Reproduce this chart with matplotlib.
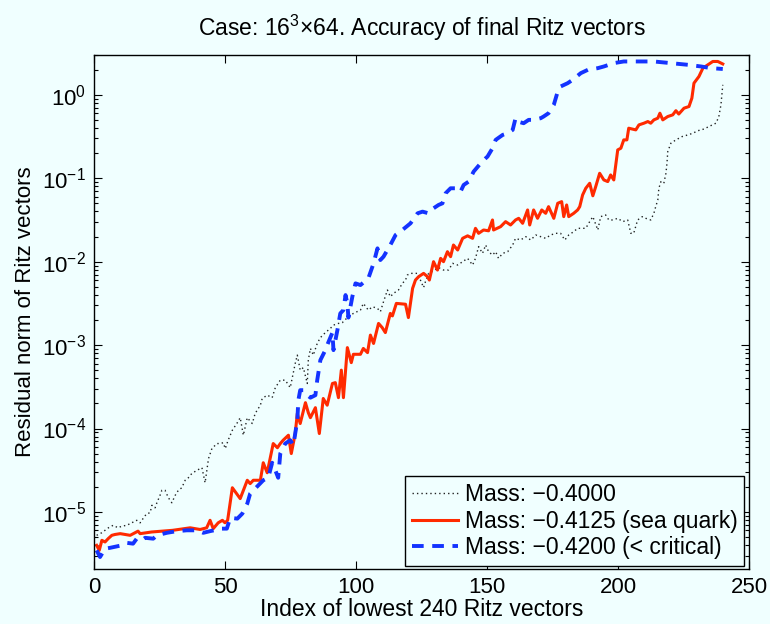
import numpy as np
import matplotlib
matplotlib.use("Agg")
import matplotlib.pyplot as plt
from matplotlib import font_manager

# residual norms, stored as log10 exponents
mass_0400_x = [1, 2.9, 5.5, 7.3, 9.2, 10.6, 12.5, 14.4, 16.3, 17.6, 18.7, 20.1, 21.4, 22.1, 23.3, 24,
               25.2, 25.9, 27.1, 28.4, 29.7, 31, 32.2, 33.5, 34.8, 36, 37.3, 39.3, 41.2, 42.4, 43.7, 45,
               46.9, 48.2, 49.3, 50.1, 51.2, 52.8, 54.7, 55.8, 57, 58.5, 60.4, 61.5, 63.5, 64.2, 66.1, 68,
               69.2, 71.1, 73, 74.9, 75.7, 76.8, 77.6, 78.7, 79.9, 81.4, 81.8, 82.6, 83.7, 85.2, 86.4, 88.3,
               90.2, 91.4, 93.3, 94.8, 96.7, 99, 101.7, 102.8, 104.7, 106.3, 108.2, 109.3, 110.5, 112, 113.1,
               114.3, 116.2, 117.7, 118.9, 119.6, 120.8, 123.5, 125.8, 126.5, 127.7, 129.6, 131.5, 133.4,
               135.3, 136.9, 138.8, 140.7, 142.6, 144.5, 145.6, 146.8, 148.3, 149.5, 150.6, 152.1, 153.3,
               154.4, 156, 157.9, 159.8, 160.9, 162.8, 164.8, 166.7, 168.6, 170.5, 172.4, 174.3, 176.2,
               178.1, 179.7, 181.2, 183.1, 184.6, 187.7, 188.8, 190.4, 192.3, 193.4, 195.3, 196.5, 198,
               199.9, 201.8, 203.7, 204.9, 206, 207.5, 209.3, 210.6, 212.5, 213.7, 214.4, 215.2, 215.6,
               216.4, 217.5, 218.3, 218.7, 219, 220.2, 222.1, 224.5, 226.7, 228.6, 230.5, 232.8, 234.7,
               237.4, 238.5, 239.3, 240]
mass_0400_log = [-5.28, -5.25, -5.19, -5.16, -5.19, -5.17, -5.16, -5.13, -5.10, -5.13, -5.08, -5.02, -5.01,
                 -4.92, -4.95, -4.89, -4.80, -4.74, -4.74, -4.83, -4.89, -4.80, -4.74, -4.71, -4.62, -4.59,
                 -4.54, -4.50, -4.47, -4.65, -4.36, -4.24, -4.18, -4.18, -4.17, -4.24, -4.14, -4.02, -3.93,
                 -3.87, -4.08, -3.87, -3.94, -3.82, -3.72, -3.64, -3.60, -3.63, -3.51, -3.42, -3.42, -3.51,
                 -3.39, -3.22, -3.12, -3.30, -3.27, -3.46, -3.18, -3.04, -3.12, -2.98, -2.91, -2.85, -2.80,
                 -2.76, -2.74, -2.73, -2.67, -2.62, -2.58, -2.50, -2.58, -2.54, -2.56, -2.60, -2.48, -2.34,
                 -2.42, -2.38, -2.34, -2.26, -2.22, -2.16, -2.14, -2.14, -2.31, -2.24, -2.14, -2.11, -2.07,
                 -2.10, -2.10, -2.02, -2.04, -2.00, -1.96, -2.04, -1.96, -1.82, -1.90, -1.80, -1.88, -1.92,
                 -1.88, -1.96, -1.90, -1.88, -1.80, -1.72, -1.74, -1.70, -1.74, -1.68, -1.70, -1.72, -1.68,
                 -1.66, -1.66, -1.74, -1.68, -1.64, -1.60, -1.60, -1.54, -1.46, -1.62, -1.46, -1.44, -1.50,
                 -1.50, -1.48, -1.52, -1.50, -1.66, -1.66, -1.50, -1.46, -1.48, -1.50, -1.42, -1.34, -1.26,
                 -1.12, -1.04, -1.06, -0.94, -0.82, -0.68, -0.58, -0.54, -0.50, -0.48, -0.46, -0.43, -0.41,
                 -0.38, -0.34, -0.26, -0.12, 0.12]

mass_4125_x = [1, 2, 3, 4.2, 5.4, 6.8, 8, 10, 12, 13.8, 16.8, 17.6, 22, 26, 30, 36.7, 40.5, 43, 44.3, 45.5,
               47.4, 49, 50, 51, 52.8, 55.8, 58.5, 59.6, 60.8, 63.5, 64.6, 66.1, 68.4, 70, 71.1, 72.2,
               74.2, 75.3, 76.8, 77.6, 78.7, 80.7, 81.8, 82.6, 84.5, 86, 87.5, 89, 91, 92.1, 93.3, 94.4,
               95.2, 96.7, 98.2, 99, 101.7, 102.8, 104.4, 105.5, 106.7, 108.6, 110, 111.2, 113.1, 113.9,
               115.4, 118.9, 120, 121.6, 122.7, 123.9, 125.8, 127.3, 128, 129.6, 131.1, 132.3, 133.4,
               134.9, 136.1, 137.2, 138.8, 140.7, 142.6, 144.5, 145.6, 146.8, 148.7, 150.6, 152.1, 152.5,
               155.2, 157.1, 159, 160.9, 162.1, 163.6, 165.5, 166.3, 167.8, 169.3, 170.9, 172.4, 173.5,
               175.5, 177, 178.5, 179.3, 180.4, 181.2, 183.1, 184.6, 185.4, 186.5, 187.7, 189.2, 190.4,
               191.5, 193, 194.6, 196.1, 197.2, 198.4, 199.9, 201.1, 202.2, 203.4, 204.1, 206.8, 208,
               209.9, 211.4, 212.5, 213.7, 215.2, 216, 217.1, 219, 220.9, 222.1, 223.2, 225.2, 227.1,
               228.2, 229, 230.9, 232.4, 234.3, 236.2, 238.1, 240]
mass_4125_log = [-5.40, -5.46, -5.34, -5.36, -5.32, -5.28, -5.27, -5.26, -5.27, -5.28, -5.23, -5.26, -5.24,
                 -5.23, -5.22, -5.19, -5.21, -5.19, -5.10, -5.20, -5.13, -5.10, -5.13, -5.10, -4.71, -4.84,
                 -4.62, -4.66, -4.62, -4.62, -4.41, -4.53, -4.18, -4.23, -4.18, -4.14, -4.08, -4.30, -4.06,
                 -3.82, -3.94, -3.69, -3.81, -3.87, -3.75, -4.06, -3.64, -3.72, -3.46, -3.45, -3.63, -3.30,
                 -3.63, -3.03, -3.21, -3.11, -3.11, -3.04, -3.09, -2.88, -2.98, -2.74, -2.79, -2.85, -2.62,
                 -2.65, -2.50, -2.51, -2.67, -2.32, -2.22, -2.18, -2.14, -2.18, -2.22, -2.00, -2.10, -1.96,
                 -2.00, -1.88, -1.94, -1.80, -1.86, -1.72, -1.69, -1.72, -1.60, -1.66, -1.62, -1.63, -1.50,
                 -1.62, -1.58, -1.52, -1.56, -1.50, -1.48, -1.54, -1.38, -1.56, -1.38, -1.48, -1.38, -1.42,
                 -1.34, -1.48, -1.30, -1.28, -1.46, -1.32, -1.46, -1.42, -1.38, -1.34, -1.20, -1.12, -1.06,
                 -1.21, -1.10, -0.94, -1.02, -1.04, -0.96, -1.02, -0.66, -0.64, -0.54, -0.54, -0.40, -0.42,
                 -0.36, -0.34, -0.32, -0.34, -0.30, -0.28, -0.22, -0.30, -0.26, -0.24, -0.19, -0.23, -0.16,
                 -0.14, -0.04, 0.14, 0.22, 0.32, 0.36, 0.40, 0.40, 0.37]

mass_4200_x = [1, 2.3, 4.2, 6.1, 10.6, 12.5, 14.9, 16.3, 18.2, 19.5, 22.6, 24, 27.8, 31.6, 35.4, 39.3,
               41.7, 44.3, 48.8, 50.7, 52, 54.7, 56.6, 58.5, 59.6, 61.5, 64.6, 66.5, 68, 69.2, 70.3, 71.1,
               73, 74.9, 76.1, 76.8, 77.6, 78, 78.7, 79.9, 81.4, 82.6, 84.5, 85.2, 86.4, 88.3, 89.4, 91,
               91.4, 92.9, 94, 95.2, 96, 96.7, 97.1, 98.6, 99.8, 101.7, 104.7, 106.7, 108.2, 109.3, 110.5,
               113.1, 115.1, 117.7, 120.8, 123.5, 125.4, 127.7, 129.6, 131.5, 133, 134.2, 136.1, 138.8,
               139.9, 141.1, 143, 144.9, 147.6, 149.5, 150.2, 152.1, 153.3, 156, 157.9, 159.8, 160.9,
               161.7, 164, 165.9, 167.8, 170.5, 171.6, 173.5, 175.5, 177, 178.1, 180.8, 182.7, 185.8,
               188.5, 192.3, 194.6, 198.4, 202.2, 206, 213.7, 220.2, 226.7, 231.7, 235.5, 240]
mass_4200_log = [-5.46, -5.54, -5.44, -5.43, -5.40, -5.37, -5.38, -5.32, -5.34, -5.31, -5.32, -5.28, -5.25,
                 -5.23, -5.22, -5.22, -5.25, -5.23, -5.20, -5.20, -5.07, -5.08, -5.02, -4.90, -4.78, -4.72,
                 -4.62, -4.59, -4.41, -4.50, -4.59, -4.30, -4.18, -4.14, -4.20, -4.06, -3.90, -3.66, -3.54,
                 -3.54, -3.60, -3.63, -3.60, -3.42, -3.18, -3.06, -2.97, -2.85, -3.06, -2.82, -2.62, -2.58,
                 -2.40, -2.50, -2.67, -2.42, -2.26, -2.28, -2.20, -2.02, -1.84, -1.98, -1.94, -1.80, -1.68,
                 -1.62, -1.54, -1.42, -1.40, -1.42, -1.36, -1.32, -1.30, -1.18, -1.12, -1.12, -1.16, -1.08,
                 -1.04, -0.92, -0.82, -0.76, -0.74, -0.64, -0.54, -0.48, -0.46, -0.42, -0.28, -0.32, -0.34,
                 -0.30, -0.30, -0.28, -0.26, -0.22, -0.12, 0.04, 0.10, 0.14, 0.18, 0.26, 0.30, 0.32, 0.34,
                 0.38, 0.40, 0.40, 0.40, 0.38, 0.36, 0.34, 0.32, 0.31]

labels = ["Mass: \u22120.4000", "Mass: \u22120.4125 (sea quark)", "Mass: \u22120.4200 (< critical)"]
x_ticks = [0, 50, 100, 150, 200, 250]

bg = "#f0ffff"
names = {f.name for f in font_manager.fontManager.ttflist}
narrow = "Liberation Sans Narrow" if "Liberation Sans Narrow" in names else "Liberation Sans"

plt.rcParams["font.family"] = ["Liberation Sans", "DejaVu Sans"]
plt.rcParams["mathtext.fontset"] = "custom"
plt.rcParams["mathtext.rm"] = "Liberation Sans"
plt.rcParams["mathtext.it"] = "Liberation Sans"

fig = plt.figure(figsize=(7.7, 6.24), dpi=100, facecolor=bg)
ax = fig.add_axes([0.1221, 0.0881, 0.8506, 0.8237], facecolor=bg)

ax.plot(mass_0400_x, 10 ** np.array(mass_0400_log), color="#222222", lw=1.0, ls=(0, (1, 2.2)),
        label=labels[0])
ax.plot(mass_4125_x, 10 ** np.array(mass_4125_log), color="#ff2a00", lw=2.2, label=labels[1])
ax.plot(mass_4200_x, 10 ** np.array(mass_4200_log), color="#1433ff", lw=2.8, ls=(0, (3, 2.2)),
        label=labels[2])

ax.set_yscale("log")
ax.set_xlim(0, 250)
ax.set_ylim(2.07e-6, 3.0)
ax.set_xticks(x_ticks)
ax.set_yticks([1e-5, 1e-4, 1e-3, 1e-2, 1e-1, 1e0])
ax.tick_params(which="both", direction="in", top=True, right=True, labelsize=16, pad=6)
ax.tick_params(which="major", length=6, width=0.8)
ax.tick_params(which="minor", length=3, width=0.8)
for s in ax.spines.values():
    s.set_linewidth(1.0)

ax.set_xlabel("Index of lowest 240 Ritz vectors", fontsize=16.5, labelpad=0)
ax.set_ylabel("Residual norm of Ritz vectors", fontsize=16, labelpad=4)
ax.set_title("Case: $16^3$\u00d764. Accuracy of final Ritz vectors", fontsize=16.5,
             family=[narrow, "DejaVu Sans"], pad=14)

leg = ax.legend(loc="lower right", bbox_to_anchor=(0.993, 0.006), fontsize=16.5, frameon=True,
                fancybox=False, facecolor=bg, edgecolor="black", framealpha=1,
                handlelength=2.0, handletextpad=0.3, borderpad=0.3, labelspacing=0.15,
                borderaxespad=0)
leg.get_frame().set_linewidth(1.0)

fig.savefig("out.png", dpi=100, facecolor=bg)
